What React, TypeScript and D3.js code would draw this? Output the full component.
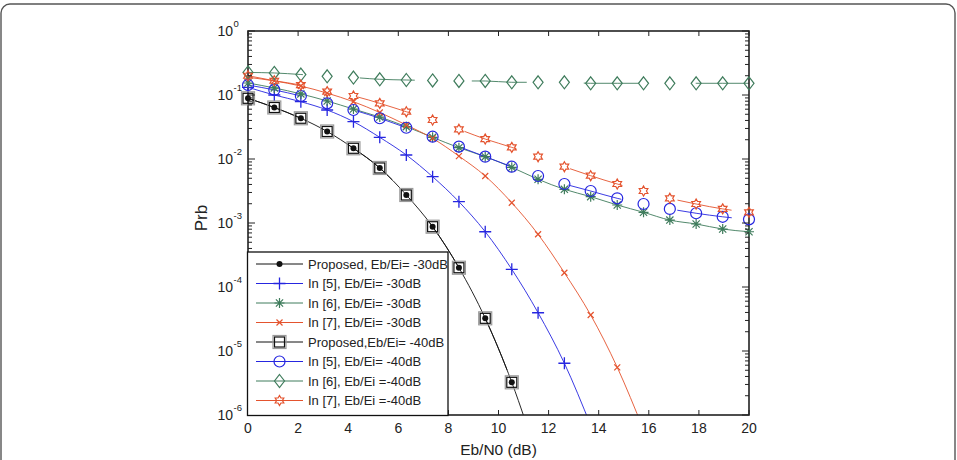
import React from "react";
import * as d3 from "d3";

// Eb/N0 grid (dB) shared by every curve
const ebn0 = [0, 1.05, 2.11, 3.16, 4.21, 5.26, 6.32, 7.37, 8.42, 9.47, 10.53, 11.58, 12.63, 13.68, 14.74, 15.79, 16.84, 17.89, 18.95, 20];

// Bit error probability per scheme
const proposedBer = [0.0888, 0.0638, 0.0433, 0.0269, 0.0147, 0.00724, 0.00274, 0.000875, 0.0002, 3.24e-5, 3.24e-6, 2e-7];
const ref5Ei30 = [0.132, 0.1, 0.0786, 0.0583, 0.0383, 0.0218, 0.01155, 0.00529, 0.00215, 0.00073, 0.000189, 3.96e-5, 6.43e-6, 6.9e-7];
const ref6Ei30 = [0.154, 0.129, 0.104, 0.0806, 0.0603, 0.0452, 0.032, 0.0218, 0.01503, 0.01087, 0.00742, 0.00482, 0.00336, 0.00258, 0.00191, 0.00147, 0.00111, 0.000965, 0.000805, 0.00073];
const ref7Ei30 = [0.189, 0.166, 0.138, 0.107, 0.0785, 0.0533, 0.034, 0.021, 0.0111, 0.00542, 0.00207, 0.000666, 0.000167, 3.65e-5, 5.56e-6, 5.9e-7];
const ref5Ei40 = [0.143, 0.12, 0.0965, 0.0741, 0.0583, 0.0433, 0.0308, 0.0223, 0.0156, 0.01087, 0.00758, 0.00542, 0.00407, 0.00316, 0.00243, 0.00198, 0.00166, 0.00142, 0.00125, 0.00114];
const ref6Ei40 = [0.225, 0.221, 0.209, 0.196, 0.1875, 0.176, 0.1715, 0.1686, 0.1656, 0.1656, 0.158, 0.158, 0.158, 0.1524, 0.1524, 0.1524, 0.1524, 0.1524, 0.1524, 0.1524];
const ref7Ei40 = [0.2, 0.167, 0.143, 0.113, 0.0965, 0.0741, 0.0548, 0.0407, 0.0291, 0.0205, 0.0152, 0.01087, 0.00758, 0.00548, 0.00407, 0.00316, 0.00243, 0.00198, 0.00166, 0.00147];

const legendLabels = [
  "Proposed, Eb/Ei= -30dB",
  "In [5], Eb/Ei= -30dB",
  "In [6], Eb/Ei= -30dB",
  "In [7], Eb/Ei= -30dB",
  "Proposed,Eb/Ei= -40dB",
  "In [5], Eb/Ei= -40dB",
  "In [6], Eb/Ei =-40dB",
  "In [7], Eb/Ei =-40dB",
];

const xTicks = [0, 2, 4, 6, 8, 10, 12, 14, 16, 18, 20];
const yExponents = [0, -1, -2, -3, -4, -5, -6];

const BLUE = "#2626e0";
const GREEN = "#3f7c5c";
const RED = "#e4532e";
const BLACK = "#111";

type Marker = "dot" | "plus" | "star" | "cross" | "square" | "circle" | "diamond" | "hexagram";
interface Series { label: string; values: number[]; color: string; marker: Marker; dashed: boolean; }

const series: Series[] = [
  { label: legendLabels[0], values: proposedBer, color: BLACK, marker: "dot", dashed: false },
  { label: legendLabels[1], values: ref5Ei30, color: BLUE, marker: "plus", dashed: false },
  { label: legendLabels[2], values: ref6Ei30, color: GREEN, marker: "star", dashed: false },
  { label: legendLabels[3], values: ref7Ei30, color: RED, marker: "cross", dashed: false },
  { label: legendLabels[4], values: proposedBer, color: BLACK, marker: "square", dashed: true },
  { label: legendLabels[5], values: ref5Ei40, color: BLUE, marker: "circle", dashed: true },
  { label: legendLabels[6], values: ref6Ei40, color: GREEN, marker: "diamond", dashed: true },
  { label: legendLabels[7], values: ref7Ei40, color: RED, marker: "hexagram", dashed: true },
];

const W = 957;
const H = 460;
const left = 248;
const right = 749;
const top = 31;
const bottom = 415;

const x = d3.scaleLinear().domain([0, 20]).range([left, right]);
const y = d3.scaleLog().domain([1e-6, 1]).range([bottom, top]);

const FONT = "'Liberation Sans', Arial, Helvetica, sans-serif";

function hexagramPath(r: number): string {
  const pts: [number, number][] = [];
  const inner = r / Math.sqrt(3);
  for (let k = 0; k < 12; k++) {
    const a = -Math.PI / 2 + (k * Math.PI) / 6;
    const rr = k % 2 === 0 ? r : inner;
    pts.push([rr * Math.cos(a), rr * Math.sin(a)]);
  }
  return "M" + pts.map((p) => p.join(",")).join("L") + "Z";
}

function MarkerGlyph({ kind, cx, cy, color }: { kind: Marker; cx: number; cy: number; color: string }) {
  const t = `translate(${cx},${cy})`;
  switch (kind) {
    case "dot":
      return <circle transform={t} r={3} fill={color} />;
    case "plus":
      return (
        <path transform={t} d="M-6,0H6M0,-6V6" stroke={color} strokeWidth={1.3} fill="none" />
      );
    case "star":
      return (
        <path transform={t} d="M-5,0H5M0,-5V5M-3.6,-3.6L3.6,3.6M-3.6,3.6L3.6,-3.6" stroke={color} strokeWidth={1.2} fill="none" />
      );
    case "cross":
      return <path transform={t} d="M-3,-3L3,3M-3,3L3,-3" stroke={color} strokeWidth={1.2} fill="none" />;
    case "square":
      return (
        <g transform={t}>
          <rect x={-6.5} y={-6.5} width={13} height={13} fill="none" stroke="#9a9a9a" strokeWidth={1.2} />
          <rect x={-5} y={-5} width={10} height={10} fill="none" stroke={color} strokeWidth={1.2} />
        </g>
      );
    case "circle":
      return <circle transform={t} r={5.5} fill="none" stroke={color} strokeWidth={1.2} />;
    case "diamond":
      return <path transform={t} d="M0,-6.5L5,0L0,6.5L-5,0Z" fill="none" stroke={color} strokeWidth={1.2} />;
    case "hexagram":
      return <path transform={t} d={hexagramPath(5)} fill="none" stroke={color} strokeWidth={1.2} />;
  }
}

export default function App() {
  const line = d3
    .line<number>()
    .x((_, i) => x(ebn0[i]))
    .y((v) => y(v))
    .curve(d3.curveMonotoneX);

  const minorTicks: number[] = [];
  for (let e = -6; e < 0; e++) {
    for (let m = 2; m <= 9; m++) minorTicks.push(m * Math.pow(10, e));
  }

  const legX = 247.5;
  const legY = 252;
  const legW = 200.5;
  const legH = 163.5;
  const rowY = (i: number) => 264 + i * 19.5;

  return (
    <svg width={W} height={H} style={{ position: "absolute", left: 0, top: 0, background: "#fff" }} fontFamily={FONT}>
      <defs>
        <clipPath id="plotClip">
          <rect x={left} y={top} width={right - left} height={bottom - top} />
        </clipPath>
      </defs>

      {/* rounded page frame */}
      <rect x={1} y={4} width={954} height={490} rx={9} fill="none" stroke="#555" strokeWidth={1.4} />

      {/* curves */}
      <g clipPath="url(#plotClip)">
        {series.map((s, k) => (
          <path
            key={"l" + k}
            d={line(s.values) || ""}
            fill="none"
            stroke={s.color}
            strokeWidth={1}
            strokeDasharray={s.dashed ? "55 57" : undefined}
            opacity={0.9}
          />
        ))}
      </g>

      {/* axes frame */}
      <rect x={left} y={top} width={right - left} height={bottom - top} fill="none" stroke="#222" strokeWidth={1.6} />

      {/* markers sit above the frame so edge points stay whole */}
      <g>
        {series.map((s, k) =>
          s.values.map((v, i) =>
            v >= 1e-6 ? (
              <MarkerGlyph key={`m${k}-${i}`} kind={s.marker} cx={x(ebn0[i])} cy={y(v)} color={s.color} />
            ) : null
          )
        )}
      </g>

      {/* x ticks */}
      {xTicks.map((t) => (
        <g key={"xt" + t}>
          <line x1={x(t)} x2={x(t)} y1={bottom} y2={bottom - 5} stroke="#222" strokeWidth={1} />
          <line x1={x(t)} x2={x(t)} y1={top} y2={top + 5} stroke="#222" strokeWidth={1} />
          <text x={x(t)} y={433} textAnchor="middle" fontSize={14} fill="#222">
            {t}
          </text>
        </g>
      ))}

      {/* y ticks */}
      {yExponents.map((e) => {
        const yy = y(Math.pow(10, e));
        return (
          <g key={"yt" + e}>
            <line x1={left} x2={left + 7} y1={yy} y2={yy} stroke="#222" strokeWidth={1} />
            <line x1={right} x2={right - 7} y1={yy} y2={yy} stroke="#222" strokeWidth={1} />
            <text x={233} y={yy + 5} textAnchor="end" fontSize={14} fill="#222">
              10
            </text>
            <text x={233.5} y={yy - 4} textAnchor="start" fontSize={9.5} fill="#222">
              {e}
            </text>
          </g>
        );
      })}
      {minorTicks.map((v, i) => (
        <g key={"mt" + i}>
          <line x1={left} x2={left + 4} y1={y(v)} y2={y(v)} stroke="#222" strokeWidth={1} />
          <line x1={right} x2={right - 4} y1={y(v)} y2={y(v)} stroke="#222" strokeWidth={1} />
        </g>
      ))}

      {/* axis titles */}
      <text x={(left + right) / 2} y={455} textAnchor="middle" fontSize={15.5} fill="#222">
        Eb/N0 (dB)
      </text>
      <text transform="translate(207,218) rotate(-90)" textAnchor="middle" fontSize={17} fill="#222">
        Prb
      </text>

      {/* legend */}
      <rect x={legX} y={legY} width={legW} height={legH} fill="#fff" stroke="#111" strokeWidth={1.3} />
      {series.map((s, i) => (
        <g key={"lg" + i}>
          <line x1={256} x2={303} y1={rowY(i)} y2={rowY(i)} stroke={s.color} strokeWidth={1} />
          <MarkerGlyph kind={s.marker} cx={279.5} cy={rowY(i)} color={s.color} />
          <text x={308} y={rowY(i) + 4.5} fontSize={13} fill="#222">
            {s.label}
          </text>
        </g>
      ))}
    </svg>
  );
}
